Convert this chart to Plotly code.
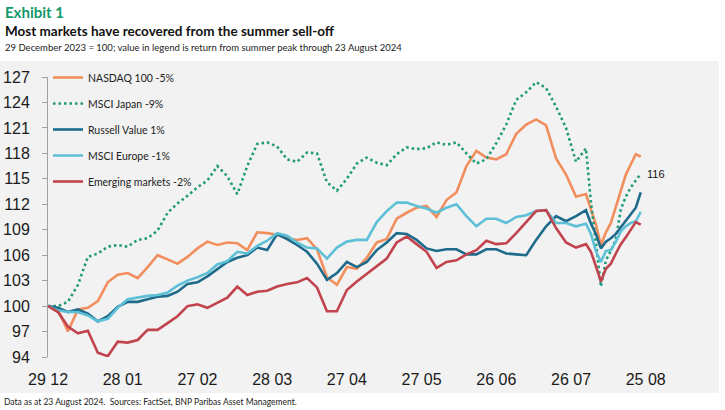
import pandas as pd
import plotly.graph_objects as go

# day offsets from 29 Dec 2023 (4-day steps, then 2-day steps through the August sell-off)
DAY_OFFSETS = list(range(0, 217, 4)) + list(range(218, 239, 2))

nasdaq = [100.0, 99.6, 97.0, 99.6, 99.8, 100.6, 102.8, 103.7, 103.9, 103.3,
          104.6, 106.0, 105.5, 105.0, 105.8, 106.8, 107.6, 107.2, 107.5, 107.4,
          106.6, 108.7, 108.6, 108.4, 108.0, 107.8, 108.0, 106.7, 103.4, 102.5,
          104.6, 104.4, 105.7, 107.5, 107.9, 110.3, 111.0, 111.6, 111.8, 110.5,
          112.5, 113.4, 116.5, 118.3, 117.5, 117.3, 117.9, 120.3, 121.4, 122.0,
          121.3, 117.4, 115.5, 112.9, 113.2,
          111.5, 109.6, 107.2, 108.7, 109.8, 111.7, 113.8, 115.5, 116.7, 117.9, 117.6]

japan = [100.0, 100.0, 100.5, 102.5, 105.8, 106.2, 107.0, 107.2, 107.0, 107.8,
         108.0, 108.9, 111.0, 112.1, 113.0, 114.0, 114.8, 116.5, 115.3, 113.2,
         116.5, 119.1, 119.3, 118.8, 117.3, 117.0, 118.1, 118.0, 114.6, 113.6,
         115.0, 116.8, 117.5, 116.9, 116.6, 117.9, 118.7, 118.5, 118.6, 119.3,
         119.0, 119.3, 118.0, 116.8, 117.3, 119.2, 121.4, 124.3, 125.2, 126.4,
         125.7, 123.5, 121.0, 117.0, 118.6,
         112.2, 107.5, 102.3, 105.4, 106.5, 107.9, 111.4, 112.9, 114.0, 114.8, 115.6]

russell_value = [100.0, 99.8, 99.3, 99.6, 99.1, 98.2, 98.8, 99.9, 100.5, 100.5,
                 100.8, 101.1, 101.2, 101.7, 102.6, 102.8, 103.5, 104.3, 105.2, 105.7,
                 106.0, 106.9, 106.6, 108.5, 107.9, 107.2, 106.4, 105.0, 103.1, 103.9,
                 105.2, 104.6, 105.2, 106.6, 107.5, 108.6, 108.5, 107.8, 106.8, 106.5,
                 106.7, 106.7, 106.1, 106.1, 106.7, 106.7, 106.2, 106.1, 106.0, 107.8,
                 109.4, 110.6, 110.0, 110.6, 111.3,
                 109.7, 108.5, 106.8, 107.6, 108.0, 108.5, 109.3, 110.1, 110.9, 111.6, 113.4]

msci_europe = [100.0, 99.5, 99.3, 99.3, 98.9, 98.2, 98.5, 99.8, 100.8, 101.0,
               101.2, 101.3, 101.6, 102.4, 103.0, 103.4, 103.9, 104.9, 105.3, 106.4,
               106.2, 107.1, 107.7, 108.6, 108.3, 107.5, 106.9, 106.8, 105.6, 106.9,
               107.6, 107.8, 107.8, 109.9, 111.2, 112.2, 112.2, 111.8, 111.5, 111.0,
               111.6, 112.0, 110.6, 109.4, 110.3, 110.3, 109.8, 110.5, 110.7, 111.2,
               111.3, 109.8, 109.8, 109.4, 109.7,
               108.5, 106.5, 105.2, 106.5, 106.6, 107.6, 108.8, 109.4, 109.8, 110.0, 111.1]

emerging = [100.0, 99.3, 97.6, 96.8, 97.1, 94.5, 94.1, 95.8, 95.7, 96.0,
            97.2, 97.2, 98.0, 98.8, 100.0, 100.2, 99.8, 100.4, 101.0, 102.3,
            101.3, 101.7, 101.8, 102.3, 102.6, 102.8, 103.3, 102.2, 99.4, 99.4,
            101.9, 102.9, 103.8, 104.8, 105.6, 107.5, 108.2, 107.3, 106.4, 104.5,
            105.2, 105.4, 106.1, 106.6, 107.7, 107.3, 107.4, 108.6, 109.9, 111.2,
            111.3, 109.2, 107.5, 106.9, 107.3,
            106.4, 104.7, 102.9, 104.4, 105.0, 106.2, 107.3, 108.1, 109.0, 109.9, 109.6]

series_names = ["NASDAQ 100 -5%", "MSCI Japan -9%", "Russell Value 1%",
                "MSCI Europe -1%", "Emerging markets -2%"]
series_values = [nasdaq, japan, russell_value, msci_europe, emerging]
colors = ["#F28E5E", "#1F9A77", "#1D6A8B", "#5DC0D7", "#C1434D"]
dashes = ["solid", "2.5px,3px", "solid", "solid", "solid"]

y_ticks = [94, 97, 100, 103, 106, 109, 112, 115, 118, 121, 124, 127]

dates = pd.to_datetime("2023-12-29") + pd.to_timedelta(DAY_OFFSETS, unit="D")
x_range = [pd.Timestamp("2023-12-29"), pd.Timestamp("2024-09-05 18:00")]
month_ms = 30 * 24 * 3600 * 1000

FONT = "Lato, Roboto, sans-serif"
TICK_FONT = dict(family="Liberation Sans, Arial, sans-serif", size=16, color="#1A1A1A")
PANEL = "#F2F2F2"

fig = go.Figure()

for i, name in enumerate(series_names):
    fig.add_trace(go.Scatter(
        x=dates,
        y=series_values[i],
        mode="lines",
        name=name,
        legendgroup=name,
        line=dict(color=colors[i], width=2.6, dash=dashes[i]),
        hoverinfo="x+y+name"
    ))

# end value label for MSCI Japan
fig.add_annotation(x=dates[-1], y=japan[-1], text=str(round(japan[-1])),
                   xanchor="left", yanchor="middle", xshift=4, showarrow=False,
                   font=dict(family="Liberation Sans, Arial, sans-serif", size=11, color="#111111"))

# titles and footnote
fig.add_annotation(xref="paper", yref="paper", x=-0.072, y=1.232, xanchor="left", yanchor="middle",
                   text="<b>Exhibit 1</b>", showarrow=False,
                   font=dict(family=FONT, size=15, color="#12996B"))
fig.add_annotation(xref="paper", yref="paper", x=-0.072, y=1.164, xanchor="left", yanchor="middle",
                   text="<b>Most markets have recovered from the summer sell-off</b>", showarrow=False,
                   font=dict(family=FONT, size=13.5, color="#111111"))
fig.add_annotation(xref="paper", yref="paper", x=-0.072, y=1.104, xanchor="left", yanchor="middle",
                   text="29 December 2023 = 100; value in legend is return from summer peak through 23 August 2024",
                   showarrow=False, font=dict(family=FONT, size=9.5, color="#222222"))
fig.add_annotation(xref="paper", yref="paper", x=-0.073, y=-0.161, xanchor="left", yanchor="middle",
                   text="Data as at 23 August 2024.  Sources: FactSet, BNP Paribas Asset Management.",
                   showarrow=False, font=dict(family=FONT, size=8.5, color="#222222"))

# white strips around the grey panel (paper itself is grey)
for x0, x1, y0, y1 in [(-0.2, 1.2, 1.0571, 1.4), (-0.2, 1.2, -0.3, -0.1286), (1.0702, 1.2, -0.3, 1.4)]:
    fig.add_shape(type="rect", xref="paper", yref="paper", layer="above",
                  x0=x0, x1=x1, y0=y0, y1=y1, fillcolor="white", line=dict(width=0))

fig.update_layout(
    width=725,
    height=410,
    margin=dict(l=48, r=50, t=77, b=53),
    paper_bgcolor=PANEL,
    plot_bgcolor=PANEL,
    showlegend=True,
    legend=dict(x=0.0, y=1.05, xanchor="left", yanchor="top",
                bgcolor="rgba(0,0,0,0)", tracegroupgap=7,
                font=dict(family=FONT, size=10.5, color="#222222")),
    xaxis=dict(
        type="date",
        range=x_range,
        tick0="2023-12-29",
        dtick=month_ms,
        tickformat="%d %m",
        showgrid=False,
        zeroline=False,
        showline=False,
        automargin=False,
        ticks="outside",
        ticklen=8,
        tickcolor="rgba(0,0,0,0)",
        tickfont=TICK_FONT
    ),
    xaxis2=dict(
        type="date",
        overlaying="x",
        anchor="free",
        position=(100 - 94) / (127 - 94),
        range=x_range,
        tick0="2023-12-29",
        dtick=month_ms,
        showgrid=False,
        zeroline=False,
        showline=True,
        automargin=False,
        linecolor="#A0A0A0",
        linewidth=1,
        ticks="outside",
        ticklen=6,
        tickcolor="#A0A0A0",
        showticklabels=False
    ),
    yaxis=dict(
        range=[94, 127],
        tickvals=y_ticks,
        showgrid=False,
        zeroline=False,
        showline=True,
        automargin=False,
        linecolor="#A0A0A0",
        ticks="outside",
        ticklen=5,
        tickcolor="#A0A0A0",
        ticklabelstandoff=9,
        tickfont=TICK_FONT
    ),
    yaxis2=dict(
        overlaying="y",
        side="right",
        range=[94, 127],
        tickvals=y_ticks,
        showgrid=False,
        zeroline=False,
        showline=True,
        automargin=False,
        linecolor="#A0A0A0",
        ticks="outside",
        ticklen=5,
        tickcolor="#A0A0A0",
        ticklabelstandoff=8,
        tickfont=TICK_FONT
    )
)

fig.write_html("out.html", config={"displayModeBar": False},
               post_script="document.body.style.margin = '0';")
